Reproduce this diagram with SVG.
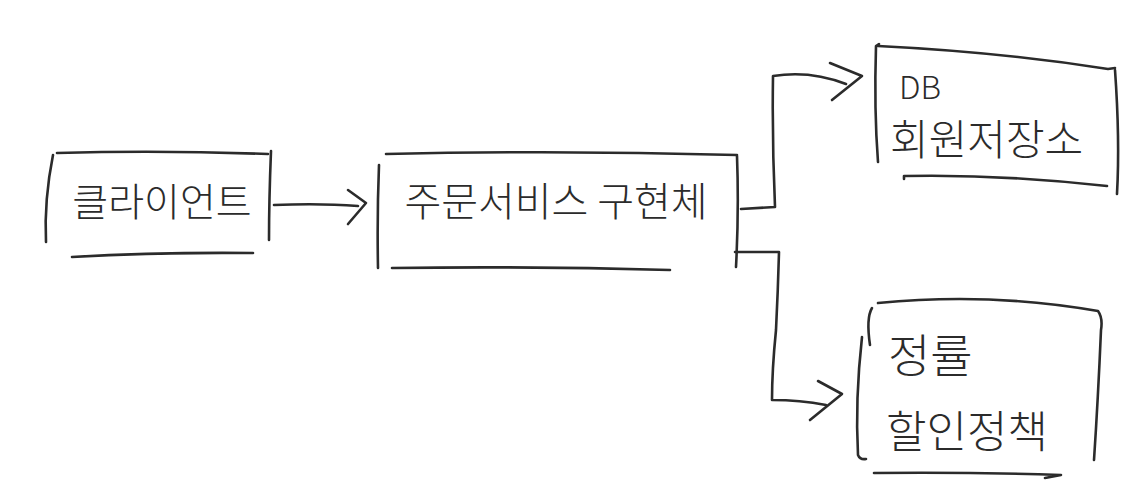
<svg xmlns="http://www.w3.org/2000/svg" width="1144" height="499" viewBox="0 0 1144 499">
<style>
.s{fill:none;stroke:#2b2b2b;stroke-width:2.6;stroke-linecap:round;stroke-linejoin:round}
.t{font-family:"Noto Sans CJK KR","Noto Sans",sans-serif;font-weight:300;fill:#2b2b2b}
</style>
<rect width="1144" height="499" fill="#ffffff"/>
<g id="client">
<path class="s" d="M57 153 Q160 150 268 154"/>
<path class="s" d="M53 155 Q44 200 46 242"/>
<path class="s" d="M271 151 Q269 200 269 240"/>
<path class="s" d="M72 257 Q160 252 253 253"/>
<text class="t" x="162" y="216" font-size="39" text-anchor="middle">클라이언트</text>
</g>
<g id="service">
<path class="s" d="M386 154 Q560 150 737 155"/>
<path class="s" d="M379 165 Q377 215 378 268"/>
<path class="s" d="M737 156 Q739 210 736 267"/>
<path class="s" d="M392 268 Q530 266 670 270"/>
<text class="t" x="556" y="216" font-size="40" text-anchor="middle">주문서비스 구현체</text>
</g>
<g id="db">
<path class="s" d="M879 44 L876 46 Q874 110 878 162"/>
<path class="s" d="M878 46 Q1000 52 1108 69 L1115 68"/>
<path class="s" d="M1115 70 Q1120 140 1117 194"/>
<path class="s" d="M904 179 L904 176 Q1000 174 1107 186"/>
<text class="t" x="899" y="99" font-size="32">DB</text>
<text class="t" x="890" y="155" font-size="42">회원저장소</text>
</g>
<g id="discount">
<path class="s" d="M878 303 Q990 292 1098 311 Q1103 318 1101 330 Q1098 400 1094 460"/>
<path class="s" d="M872 308 Q866 318 870 345"/>
<path class="s" d="M862 337 Q855 400 858 455 Q860 460 866 459"/>
<path class="s" d="M874 473 Q970 472 1061 475 L1045 478"/>
<text class="t" x="888" y="372" font-size="46">정률</text>
<text class="t" x="886" y="448" font-size="44">할인정책</text>
</g>
<g id="connectors">
<path class="s" d="M274 205 Q320 203 358 206"/>
<path class="s" d="M348 190 L366 203 L348 224"/>
<path class="s" d="M741 209 L775 207 Q772 140 773 76 Q810 70 846 84"/>
<path class="s" d="M830 63 L862 76 L832 100"/>
<path class="s" d="M735 252 L779 252 Q778 290 776 330 Q772 370 772 400 Q800 400 826 405"/>
<path class="s" d="M818 381 L842 394 L810 420"/>
</g>
</svg>
